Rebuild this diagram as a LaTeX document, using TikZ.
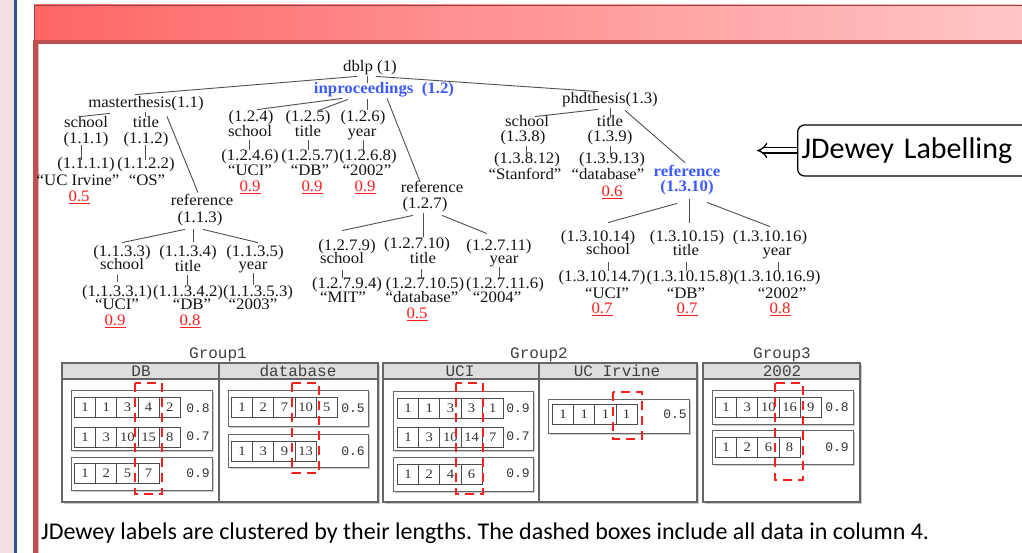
\documentclass[tikz,border=0pt]{standalone}
\usepackage{fontspec}
\setmainfont{Liberation Serif}
\newfontfamily\trf[FakeStretch=1.05]{Liberation Serif}
\newfontfamily\cellf[FakeStretch=1.12]{Liberation Serif}
\newfontfamily\monof{Liberation Mono}
\newfontfamily\calf{Carlito}
\usetikzlibrary{calc,arrows.meta}
\definecolor{hdrL}{RGB}{255,102,102}
\definecolor{hdrR}{RGB}{255,198,198}
\definecolor{frm}{RGB}{192,80,77}
\definecolor{strip}{RGB}{240,224,224}
\definecolor{stripline}{RGB}{43,87,151}
\definecolor{kblue}{RGB}{60,90,255}
\definecolor{kred}{RGB}{255,30,30}
\definecolor{edgec}{RGB}{80,80,80}
\newcommand\cellrow[4]{\foreach \v [count=\i] in {#4} {\node[cellst] (#1-\i) at ({#2+(\i-1)*21.2},#3) {\v};}}
\newcommand\panel[4]{\fill[pshadow] (#1+2,#2+2) rectangle (#3+2,#4+2); \draw[pbox] (#1,#2) rectangle (#3,#4);}
\begin{document}
\begin{tikzpicture}[x=1pt,y=-1pt,
  t/.style={inner sep=0pt, text height=11pt, text depth=3.4pt, text=black!92, font=\trf\fontsize{16}{16}\selectfont},
  bl/.style={t, text=kblue, font=\trf\bfseries\fontsize{16}{16}\selectfont},
  sc/.style={t, text=kred},
  ed/.style={draw=edgec, line width=0.9pt},
  cellst/.style={draw=black!70, line width=0.8pt, fill=white, minimum width=21.2pt, minimum height=20pt, inner sep=0pt, anchor=west, text=black!80, font=\cellf\fontsize{13}{13}\selectfont},
  score/.style={inner sep=0pt, text=black!80, font=\monof\fontsize{13}{13}\selectfont},
  glabel/.style={inner sep=0pt, text=black!75, font=\monof\fontsize{16}{16}\selectfont},
  pshadow/.style={fill=black!20},
  pbox/.style={draw=black!60, line width=1pt, fill=white},
  gbox/.style={draw=black!60, line width=1.2pt},
  hdrfill/.style={fill=black!13},
  rdash/.style={draw=kred, line width=2pt, dash pattern=on 9pt off 6pt},
  jdbox/.style={draw=black, line width=1.3pt, rounded corners=7pt, minimum height=51pt, text width=232pt, inner xsep=4pt, align=left, font=\calf\fontsize{30}{30}\selectfont},
  arr/.style={draw=black, line width=1.3pt, double=white, double distance=4pt, -{Implies[scale=1.5]}},
  capt/.style={inner sep=0pt, font=\calf\fontsize{24}{24}\selectfont}
]
\useasboundingbox (0,0) rectangle (1022,553);
% ---------- frame ----------
\fill[white] (0,0) rectangle (1022,553);
\fill[strip] (0,0) rectangle (14,553);
\fill[stripline] (14,0) rectangle (16.5,553);
\shade[left color=hdrL, right color=hdrR] (34,5) rectangle (1022,40);
\draw[frm!80!black, line width=0.8pt] (34.4,40) -- (34.4,5.4) -- (1022,5.4);
\fill[frm] (33,40) rectangle (1022,44.5);
\fill[frm] (33,40) rectangle (38,553);
\fill[frm!45] (38,44.5) rectangle (39.2,553);

% ---------- tree nodes ----------
\node[t] (dblp) at (370,68) {dblp~(1)};
\node[bl] (inp) at (384,90) {inproceedings~~(1.2)};
\node[t] (mt) at (146,104) {masterthesis(1.1)};
\node[t] (phd) at (610,100) {phdthesis(1.3)};
% masterthesis branch
\node[t] (mt-s) at (86,124) {school};
\node[t] (mt-sl) at (86,140) {(1.1.1)};
\node[t] (mt-t) at (146,124) {title};
\node[t] (mt-tl) at (146,140) {(1.1.2)};
\node[t] (mt-sv) at (86,165) {(1.1.1.1)};
\node[t] (mt-sq) at (78,182) {“UC Irvine”};
\node[sc] (mt-ss) at (79,198) {\underline{0.5}};
\node[t] (mt-tv) at (146,165) {(1.1.2.2)};
\node[t] (mt-tq) at (147,182) {“OS”};
\node[t] (r1) at (202,202) {reference};
\node[t] (r1l) at (200,219) {(1.1.3)};
\node[t] (r1-al) at (122,253) {(1.1.3.3)};
\node[t] (r1-a) at (122,266) {school};
\node[t] (r1-bl) at (188,253) {(1.1.3.4)};
\node[t] (r1-b) at (188,268) {title};
\node[t] (r1-cl) at (255,253) {(1.1.3.5)};
\node[t] (r1-c) at (253,266) {year};
\node[t] (r1-av) at (117,293) {(1.1.3.3.1)};
\node[t] (r1-aq) at (117,306) {“UCI”};
\node[sc] (r1-as) at (115,322) {\underline{0.9}};
\node[t] (r1-bv) at (188,293) {(1.1.3.4.2)};
\node[t] (r1-bq) at (192,306) {“DB”};
\node[sc] (r1-bs) at (190,322) {\underline{0.8}};
\node[t] (r1-cv) at (258,293) {(1.1.3.5.3)};
\node[t] (r1-cq) at (253,306) {“2003”};
% inproceedings branch
\node[t] (i-al) at (251,118) {(1.2.4)};
\node[t] (i-a) at (250,133) {school};
\node[t] (i-bl) at (308,118) {(1.2.5)};
\node[t] (i-b) at (308,133) {title};
\node[t] (i-cl) at (363,118) {(1.2.6)};
\node[t] (i-c) at (362,133) {year};
\node[t] (i-av) at (250,157) {(1.2.4.6)};
\node[t] (i-aq) at (250,172) {“UCI”};
\node[sc] (i-as) at (250,188) {\underline{0.9}};
\node[t] (i-bv) at (310,157) {(1.2.5.7)};
\node[t] (i-bq) at (310,172) {“DB”};
\node[sc] (i-bs) at (312,188) {\underline{0.9}};
\node[t] (i-cv) at (368,157) {(1.2.6.8)};
\node[t] (i-cq) at (367,172) {“2002”};
\node[sc] (i-cs) at (365,188) {\underline{0.9}};
\node[t] (r2) at (432,189) {reference};
\node[t] (r2l) at (425,205) {(1.2.7)};
\node[t] (r2-al) at (347,247) {(1.2.7.9)};
\node[t] (r2-a) at (342,260) {school};
\node[t] (r2-bl) at (417,245) {(1.2.7.10)};
\node[t] (r2-b) at (423,260) {title};
\node[t] (r2-cl) at (499,247) {(1.2.7.11)};
\node[t] (r2-c) at (504,260) {year};
\node[t] (r2-av) at (347,285) {(1.2.7.9.4)};
\node[t] (r2-aq) at (343,299) {“MIT”};
\node[t] (r2-bv) at (425,285) {(1.2.7.10.5)};
\node[t] (r2-bq) at (422,299) {“database”};
\node[sc] (r2-bs) at (417,315) {\underline{0.5}};
\node[t] (r2-cv) at (505,285) {(1.2.7.11.6)};
\node[t] (r2-cq) at (497,299) {“2004”};
% phdthesis branch
\node[t] (p-a) at (527,123) {school};
\node[t] (p-al) at (523,138) {(1.3.8)};
\node[t] (p-b) at (610,123) {title};
\node[t] (p-bl) at (610,138) {(1.3.9)};
\node[t] (p-av) at (527,160) {(1.3.8.12)};
\node[t] (p-aq) at (525,176) {“Stanford”};
\node[t] (p-bv) at (612,160) {(1.3.9.13)};
\node[t] (p-bq) at (608,176) {“database”};
\node[sc] (p-bs) at (612,193) {\underline{0.6}};
\node[bl] (r3) at (687,173) {reference};
\node[bl] (r3l) at (687,188) {(1.3.10)};
\node[t] (r3-al) at (598,238) {(1.3.10.14)};
\node[t] (r3-a) at (608,251) {school};
\node[t] (r3-bl) at (687,238) {(1.3.10.15)};
\node[t] (r3-b) at (686,252) {title};
\node[t] (r3-cl) at (770,238) {(1.3.10.16)};
\node[t] (r3-c) at (777,252) {year};
\node[t] (r3-av) at (602,278) {(1.3.10.14.7)};
\node[t] (r3-aq) at (607,295) {“UCI”};
\node[sc] (r3-as) at (602,310) {\underline{0.7}};
\node[t] (r3-bv) at (690,278) {(1.3.10.15.8)};
\node[t] (r3-bq) at (686,295) {“DB”};
\node[sc] (r3-bs) at (687,310) {\underline{0.7}};
\node[t] (r3-cv) at (777,278) {(1.3.10.16.9)};
\node[t] (r3-cq) at (782,295) {“2002”};
\node[sc] (r3-cs) at (780,310) {\underline{0.8}};

% ---------- tree edges ----------
\draw[ed] ($(dblp.south)+(-13,1)$) -- ($(mt.north)+(-11,-2)$);
\draw[ed] ($(dblp.south)+(-3,1)$) -- ($(inp.north)+(-17,0)$);
\draw[ed] ($(dblp.south)+(6,1)$) -- ($(phd.north)+(-12,-1)$);
\draw[ed] ($(mt.south)+(-36,2)$) -- ($(mt-s.north)+(-6,0)$);
\draw[ed] ($(mt.south)+(-1,1)$) -- ($(mt-t.north)+(-1,0)$);
\draw[ed] ($(mt.south)+(21,5)$) -- ($(r1.north)+(-4,-2)$);
\draw[ed] ($(mt-sl.south)+(-5,-2)$) -- ($(mt-sv.north)+(-5,2)$);
\draw[ed] ($(mt-tl.south)+(-1,-2)$) -- ($(mt-tv.north)+(-1,2)$);
\draw[ed] ($(r1l.south)+(-15,3)$) -- ($(r1-al.north)+(0,-3)$);
\draw[ed] ($(r1l.south)+(-7,3)$) -- ($(r1-bl.north)+(5,-4)$);
\draw[ed] ($(r1l.south)+(3,3)$) -- ($(r1-cl.north)+(3,-3)$);
\draw[ed] ($(r1-a.south)+(-5,2)$) -- ($(r1-av.north)+(0,-4)$);
\draw[ed] ($(r1-b.south)+(-1,0)$) -- ($(r1-bv.north)+(-1,-1)$);
\draw[ed] ($(r1-c.south)+(0,0)$) -- ($(r1-cv.north)+(-5,-1)$);
\draw[ed] ($(inp.south)+(-42,1)$) -- ($(i-al.north)+(6,-1)$);
\draw[ed] ($(inp.south)+(-36,2)$) -- ($(i-bl.north)+(10,0)$);
\draw[ed] ($(inp.south)+(-17,2)$) -- ($(i-cl.north)+(4,-1)$);
\draw[ed] ($(inp.south)+(3,1)$) -- ($(r2.north)+(-12,0)$);
\draw[ed] ($(i-a.south)+(-1,0)$) -- ($(i-av.north)+(-1,0)$);
\draw[ed] ($(i-b.south)+(0,0)$) -- ($(i-bv.north)+(-2,0)$);
\draw[ed] ($(i-c.south)+(1,0)$) -- ($(i-cv.north)+(-5,0)$);
\draw[ed] ($(r2l.south)+(-12,3)$) -- ($(r2-al.north)+(-5,-9)$);
\draw[ed] ($(r2l.south)+(-2,1)$) -- ($(r2-bl.north)+(6,-1)$);
\draw[ed] ($(r2l.south)+(17,3)$) -- ($(r2-cl.north)+(-12,-6)$);
\draw[ed] ($(r2-a.south)+(0,3)$) -- ($(r2-av.north)+(-5,0)$);
\draw[ed] ($(r2-b.south)+(-2,2)$) -- ($(r2-bv.north)+(-4,0)$);
\draw[ed] ($(r2-c.south)+(-5,0)$) -- ($(r2-cv.north)+(-6,0)$);
\draw[ed] ($(phd.south)+(-12,2)$) -- ($(p-a.north)+(8,1)$);
\draw[ed] ($(phd.south)+(0,1)$) -- ($(p-b.north)+(0,2)$);
\draw[ed] ($(phd.south)+(15,3)$) -- ($(r3.north)+(-2,-3)$);
\draw[ed] ($(p-al.south)+(3,1)$) -- ($(p-av.north)+(-1,2)$);
\draw[ed] ($(p-bl.south)+(0,1)$) -- ($(p-bv.north)+(-2,2)$);
\draw[ed] ($(r3l.south)+(-10,8)$) -- ($(r3-al.north)+(10,-8)$);
\draw[ed] ($(r3l.south)+(2,4)$) -- ($(r3-bl.north)+(2,-8)$);
\draw[ed] ($(r3l.south)+(20,7)$) -- ($(r3-cl.north)+(0,-4)$);
\draw[ed] ($(r3-a.south)+(0,4)$) -- ($(r3-av.north)+(6,0)$);
\draw[ed] ($(r3-b.south)+(0,3)$) -- ($(r3-bv.north)+(-4,0)$);
\draw[ed] ($(r3-c.south)+(1,3)$) -- ($(r3-cv.north)+(1,0)$);

% ---------- JDewey labelling ----------
\node[jdbox, anchor=west] (jd) at (797,150.5) {JDewey Labelling};
\coordinate (tip) at (757,150.5);
\draw[arr] (jd.west) -- (tip);

% ---------- groups ----------
\node[glabel] (g1) at (218,355) {Group1};
\node[glabel] (g2) at (539,355) {Group2};
\node[glabel] (g3) at (782,355) {Group3};
% group outlines
\fill[pshadow] (64,365) rectangle (380,504);
\fill[pshadow] (385,365) rectangle (699,504);
\fill[pshadow] (705,365) rectangle (862,504);
\fill[white] (62,363) rectangle (378,502);
\fill[white] (383,363) rectangle (697,502);
\fill[white] (703,363) rectangle (860,502);
\fill[hdrfill] (62,363) rectangle (378,379);
\fill[hdrfill] (383,363) rectangle (697,379);
\fill[hdrfill] (703,363) rectangle (860,379);
\draw[gbox] (62,363) rectangle (378,502);
\draw[gbox] (62,379) -- (378,379);
\draw[gbox] (219,363) -- (219,502);
\draw[gbox] (383,363) rectangle (697,502);
\draw[gbox] (383,379) -- (697,379);
\draw[gbox] (539,363) -- (539,502);
\draw[gbox] (703,363) rectangle (860,502);
\draw[gbox] (703,379) -- (860,379);
\node[glabel] (hdb) at (141,371) {DB};
\node[glabel] (hdatabase) at (298,371) {database};
\node[glabel] (huci) at (460,371) {UCI};
\node[glabel] (hucirv) at (617,371) {UC Irvine};
\node[glabel] (h2002) at (782,371) {2002};
% row panels
\panel{71}{390}{212}{450}
\panel{71}{457}{212}{490}
\panel{228}{390}{368}{426}
\panel{228}{434}{368}{467}
\panel{393}{391}{533}{450}
\panel{393}{457}{533}{491}
\panel{548}{399}{689}{433}
\panel{712}{390}{853}{424}
\panel{712}{430}{853}{464}
% cells
\cellrow{dba}{74}{407}{1,1,3,4,2}
\cellrow{dbb}{74}{437}{1,3,10,15,8}
\cellrow{dbc}{74}{473.5}{1,2,5,7}
\cellrow{dta}{231}{407.5}{1,2,7,10,5}
\cellrow{dtb}{231}{451}{1,3,9,13}
\cellrow{uca}{397}{408}{1,1,3,3,1}
\cellrow{ucb}{397}{437}{1,3,10,14,7}
\cellrow{ucc}{397}{474}{1,2,4,6}
\cellrow{uia}{552}{414.5}{1,1,1,1}
\cellrow{yra}{715}{407}{1,3,10,16,9}
\cellrow{yrb}{715}{447}{1,2,6,8}
% scores
\node[score] (dba-s) at (198,408) {0.8};
\node[score] (dbb-s) at (198,436) {0.7};
\node[score] (dbc-s) at (198,473) {0.9};
\node[score] (dta-s) at (353,408) {0.5};
\node[score] (dtb-s) at (353,451) {0.6};
\node[score] (uca-s) at (518,408) {0.9};
\node[score] (ucb-s) at (518,436) {0.7};
\node[score] (ucc-s) at (518,473) {0.9};
\node[score] (uia-s) at (675,414) {0.5};
\node[score] (yra-s) at (837,407) {0.8};
\node[score] (yrb-s) at (837,447) {0.9};
% dashed column-4 boxes
\draw[rdash] (135,383) rectangle (162,494);
\draw[rdash] (292,383) rectangle (319,473);
\draw[rdash] (456,383) rectangle (483,494);
\draw[rdash] (613,392) rectangle (642,439);
\draw[rdash] (775,383) rectangle (803,480);

% ---------- caption ----------
\node[capt, anchor=west] (cap) at (41,533) {\frenchspacing JDewey labels are clustered by their lengths. The dashed boxes include all data in column 4.};
\end{tikzpicture}
\end{document}
